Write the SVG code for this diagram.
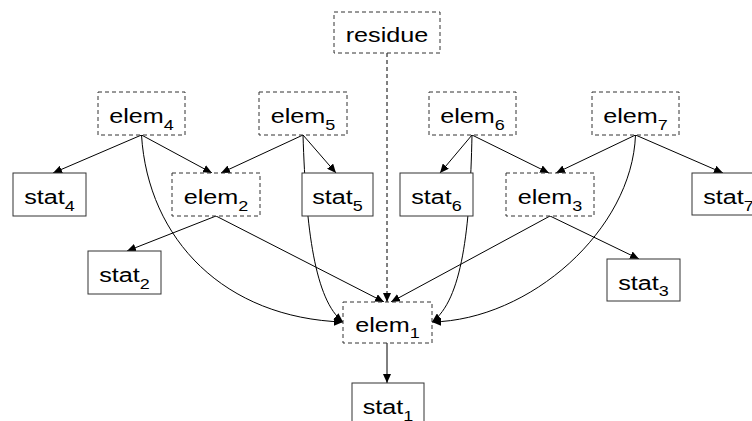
<svg xmlns="http://www.w3.org/2000/svg" width="752" height="421" viewBox="0 0 752 421">
<style>
.box{fill:#fff;stroke:#333;stroke-width:1}
.dash{stroke-dasharray:4 3}
.lbl{font-family:"Liberation Sans",Arial,sans-serif;font-size:21px;fill:#000;text-anchor:middle}
.sub{font-size:15px}
.e{fill:none;stroke:#000;stroke-width:1;marker-end:url(#ah)}
</style>
<defs>
<marker id="ah" markerUnits="userSpaceOnUse" markerWidth="10" markerHeight="8" refX="9" refY="4" orient="auto">
<path d="M0,0 L9,4 L0,8 Z" fill="#000"/>
</marker>
</defs>
<rect width="752" height="421" fill="#fff"/>
<g id="connectors">
<path class="e" d="M387,53 L387,302" stroke-dasharray="4 3"/>
<path class="e" d="M141.5,135 L53,173"/>
<path class="e" d="M141.5,135 L212,173"/>
<path class="e" d="M303,135 L221,173"/>
<path class="e" d="M303,135 L336,173"/>
<path class="e" d="M303,135 C306,230 315,300 343,322"/>
<path class="e" d="M141.5,135 C148,240 225,318 343,322"/>
<path class="e" d="M472,135 C470,230 462,300 432,322"/>
<path class="e" d="M472,135 L440,173"/>
<path class="e" d="M472,135 L549,173"/>
<path class="e" d="M635.5,135 L556,173"/>
<path class="e" d="M635.5,135 L723,173"/>
<path class="e" d="M635.5,135 C632,230 530,320 432,322"/>
<path class="e" d="M216,216 L127,251"/>
<path class="e" d="M216,216 L384,302"/>
<path class="e" d="M550,216 L391,302"/>
<path class="e" d="M550,216 L639,259"/>
<path class="e" d="M387,343 L387,383"/>
</g>
<g id="residue"><rect class="box dash" x="334" y="12" width="106" height="41"/><text class="lbl" transform="translate(387,41.5) scale(1.2,1)">residue</text></g>
<g id="elem4"><rect class="box dash" x="98" y="92" width="87" height="43"/><text class="lbl" transform="translate(141.5,123) scale(1.2,1)">elem<tspan class="sub" dy="6.5">4</tspan></text></g>
<g id="elem5"><rect class="box dash" x="259" y="92" width="88" height="43"/><text class="lbl" transform="translate(303,123) scale(1.2,1)">elem<tspan class="sub" dy="6.5">5</tspan></text></g>
<g id="elem6"><rect class="box dash" x="429" y="92" width="87" height="43"/><text class="lbl" transform="translate(472.5,123) scale(1.2,1)">elem<tspan class="sub" dy="6.5">6</tspan></text></g>
<g id="elem7"><rect class="box dash" x="592" y="92" width="87" height="43"/><text class="lbl" transform="translate(635.5,123) scale(1.2,1)">elem<tspan class="sub" dy="6.5">7</tspan></text></g>
<g id="stat4"><rect class="box" x="13" y="173" width="73" height="43"/><text class="lbl" transform="translate(49.5,204) scale(1.2,1)">stat<tspan class="sub" dy="6.5">4</tspan></text></g>
<g id="elem2"><rect class="box dash" x="172" y="173" width="88" height="43"/><text class="lbl" transform="translate(216,204) scale(1.2,1)">elem<tspan class="sub" dy="6.5">2</tspan></text></g>
<g id="stat5"><rect class="box" x="302" y="173" width="71" height="43"/><text class="lbl" transform="translate(337.5,204) scale(1.2,1)">stat<tspan class="sub" dy="6.5">5</tspan></text></g>
<g id="stat6"><rect class="box" x="400" y="173" width="73" height="43"/><text class="lbl" transform="translate(436.5,204) scale(1.2,1)">stat<tspan class="sub" dy="6.5">6</tspan></text></g>
<g id="elem3"><rect class="box dash" x="506" y="173" width="88" height="43"/><text class="lbl" transform="translate(550,204) scale(1.2,1)">elem<tspan class="sub" dy="6.5">3</tspan></text></g>
<g id="stat7"><rect class="box" x="692" y="173" width="73" height="42"/><text class="lbl" transform="translate(728.5,204) scale(1.2,1)">stat<tspan class="sub" dy="6.5">7</tspan></text></g>
<g id="stat2"><rect class="box" x="88" y="251" width="73" height="43"/><text class="lbl" transform="translate(124.5,282) scale(1.2,1)">stat<tspan class="sub" dy="6.5">2</tspan></text></g>
<g id="stat3"><rect class="box" x="607" y="259" width="73" height="42"/><text class="lbl" transform="translate(643.5,289.5) scale(1.2,1)">stat<tspan class="sub" dy="6.5">3</tspan></text></g>
<g id="elem1"><rect class="box dash" x="343" y="302" width="89" height="41"/><text class="lbl" transform="translate(387.5,331.5) scale(1.2,1)">elem<tspan class="sub" dy="6.5">1</tspan></text></g>
<g id="stat1"><rect class="box" x="352" y="383" width="72" height="43"/><text class="lbl" transform="translate(388,414) scale(1.2,1)">stat<tspan class="sub" dy="6.5">1</tspan></text></g>
</svg>
